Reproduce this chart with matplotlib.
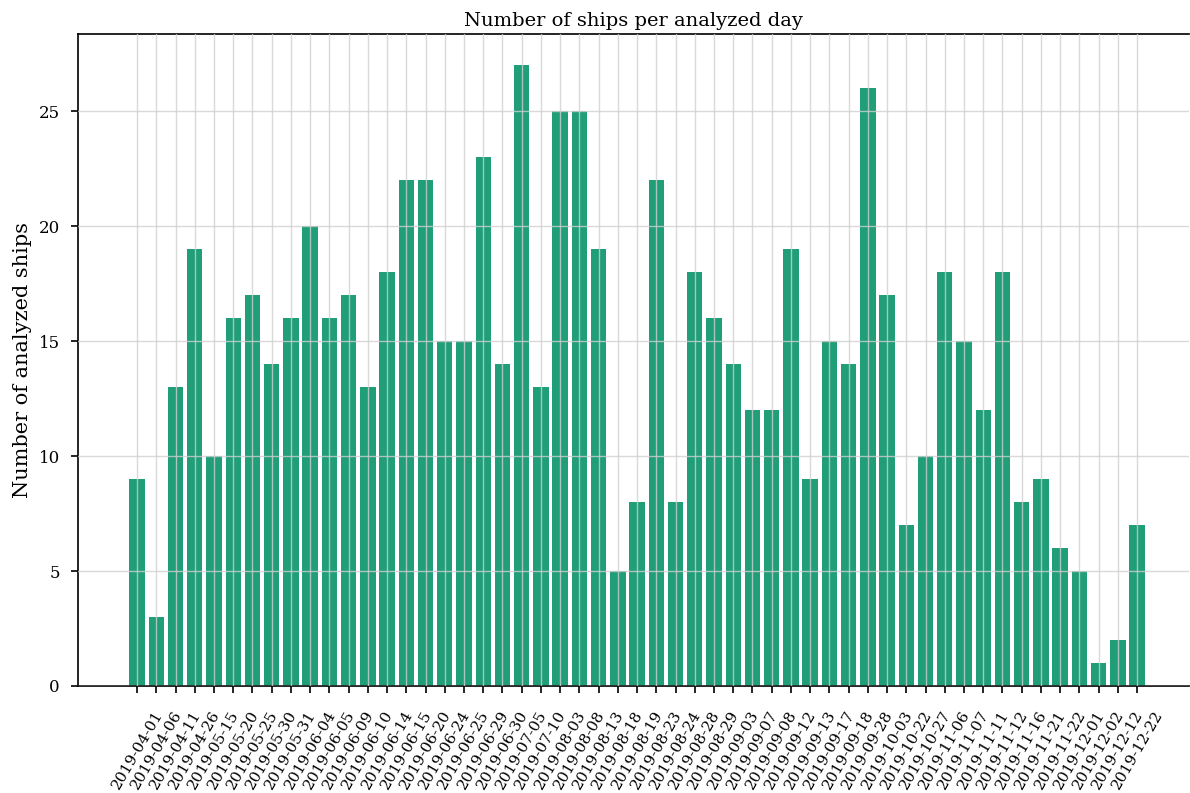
import numpy as np
import matplotlib
matplotlib.use("Agg")
import matplotlib.pyplot as plt

plt.rcParams['font.family'] = 'DejaVu Serif'

days = ['2019-04-01', '2019-04-06', '2019-04-11', '2019-04-26', '2019-05-15',
        '2019-05-20', '2019-05-25', '2019-05-30', '2019-05-31', '2019-06-04',
        '2019-06-05', '2019-06-09', '2019-06-10', '2019-06-14', '2019-06-15',
        '2019-06-20', '2019-06-24', '2019-06-25', '2019-06-29', '2019-06-30',
        '2019-07-05', '2019-07-10', '2019-08-03', '2019-08-08', '2019-08-13',
        '2019-08-18', '2019-08-19', '2019-08-23', '2019-08-24', '2019-08-28',
        '2019-08-29', '2019-09-03', '2019-09-07', '2019-09-08', '2019-09-12',
        '2019-09-13', '2019-09-17', '2019-09-18', '2019-09-28', '2019-10-03',
        '2019-10-22', '2019-10-27', '2019-11-06', '2019-11-07', '2019-11-11',
        '2019-11-12', '2019-11-16', '2019-11-21', '2019-11-22', '2019-12-01',
        '2019-12-02', '2019-12-12', '2019-12-22']
ships = [9, 3, 13, 19, 10, 16, 17, 14, 16, 20,
         16, 17, 13, 18, 22, 22, 15, 15, 23, 14,
         27, 13, 25, 25, 19, 5, 8, 22, 8, 18,
         16, 14, 12, 12, 19, 9, 15, 14, 26, 17,
         7, 10, 18, 15, 12, 18, 8, 9, 6, 5,
         1, 2, 7]

fig = plt.figure(figsize=(11.9, 7.93), dpi=100)
ax = fig.add_axes([78 / 1190, 1 - 686 / 793, 1111 / 1190, 652 / 793])

x = np.arange(len(days))
ax.bar(x, ships, width=0.8, color='#1f9e78')
ax.set_xticks(x)
ax.set_xticklabels(days, rotation=60, fontsize=11)
ax.tick_params(axis='y', labelsize=12, pad=8)
ax.tick_params(axis='x', pad=11)
ax.tick_params(length=5, width=1.2)
ax.set_xlim(-3.07, 54.7)
ax.set_ylim(0, 28.35)
ax.grid(True, color='#d0d0d0', alpha=0.8, linewidth=1)
ax.set_axisbelow(False)
ax.spines['right'].set_visible(False)
for s in ['left', 'top', 'bottom']:
    ax.spines[s].set_linewidth(1.2)
ax.set_title('Number of ships per analyzed day', fontsize=14)
ax.set_ylabel('Number of analyzed ships', fontsize=15, labelpad=5)

fig.savefig('out.png', dpi=100)
